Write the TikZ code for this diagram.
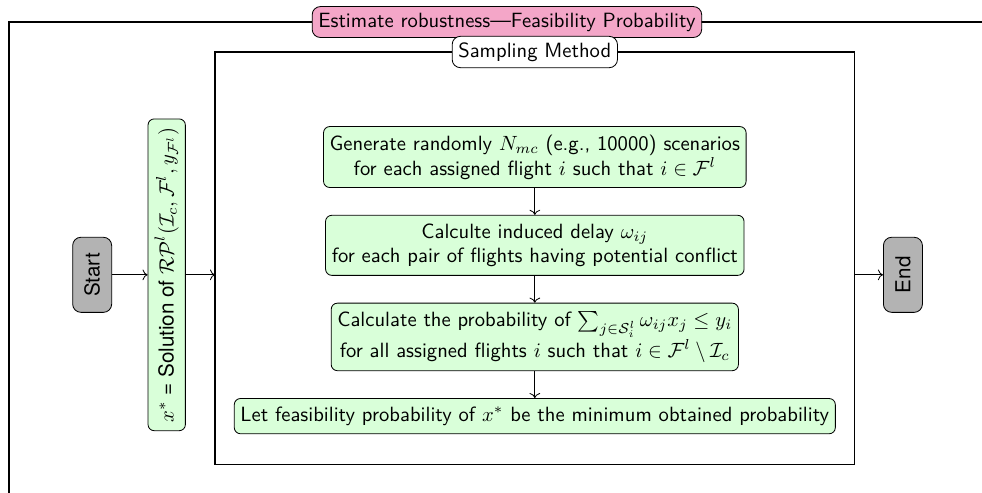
\documentclass[tikz,border=0pt]{standalone}
\usepackage{fontspec}
\newfontfamily\herosfont{TeX Gyre Heros}
\usepackage{amsmath}
\usepackage{tikz}
\usetikzlibrary{arrows.meta, positioning}
\definecolor{clrTtl}{HTML}{F4A6C8}
\definecolor{clrStep}{HTML}{D9FFD9}
\definecolor{clrTerm}{HTML}{B3B3B3}

\begin{document}
\begin{tikzpicture}[x=0.97cm, y=0.97cm, node distance=0.46cm,
  stepbox/.style={rectangle, rounded corners=3pt, draw=black, fill=clrStep,
        font=\sffamily, align=center, inner xsep=3pt, inner ysep=4pt},
  termbox/.style={rectangle, rounded corners=4pt, draw=black, fill=clrTerm,
        font=\herosfont, rotate=90, minimum width=1.28cm, minimum height=0.665cm},
  titlebox/.style={rectangle, rounded corners=4pt, draw=black,
        font=\sffamily, inner sep=3pt},
  frame/.style={draw=black, line width=0.6pt}]
  \clip (0,0) rectangle (17.26,-8.66);
  % outer frame, it runs past the right and bottom edges
  \draw[frame] (0.158,-9.5) |- (17.66,-0.387) -- (17.66,-9.5);
  \node[titlebox, fill=clrTtl] (est) at (8.91,-0.387) {Estimate robustness---Feasibility Probability};
  % sampling frame
  \draw[frame] (3.78,-0.914) rectangle (15.02,-8.17);
  \node[titlebox, fill=white] (smpttl) at (9.40,-0.914) {Sampling Method};
  \coordinate (smpW) at (3.78,-4.83);
  \coordinate (smpE) at (15.02,-4.83);

  \node[termbox] (start) at (1.62,-4.83) {Start};
  \node[stepbox, rotate=90, font=\herosfont, inner xsep=4pt, inner ysep=3.2pt] (sol) at (2.93,-4.83)
        {$x^*$ = Solution of $\mathcal{RP}^l(\mathcal{I}_c,\mathcal{F}^l,y_{\mathcal{F}^l})$};
  \node[termbox] (end) at (15.87,-4.83) {End};

  \node[stepbox] (gen) at (9.40,-2.76)
        {Generate randomly $N_{mc}$ (e.g., 10000) scenarios\\ for each assigned flight $i$ such that $i\in\mathcal{F}^l$};
  \node[stepbox, below=of gen] (dly)
        {Calculte induced delay $\omega_{ij}$\\ for each pair of flights having potential conflict};
  \node[stepbox, below=of dly] (prb)
        {Calculate the probability of $\sum_{j\in\mathcal{S}_i^l}\omega_{ij}x_j\le y_i$\\ for all assigned flights $i$ such that $i\in\mathcal{F}^l\setminus\mathcal{I}_c$};
  \node[stepbox, below=of prb] (min)
        {Let feasibility probability of $x^*$ be the minimum obtained probability};

  \draw[->] (start) -- (sol);
  \draw[->] (sol.south) -- (smpW);
  \draw[->] (smpE) -- (end.north);
  \foreach \a/\b in {gen/dly, dly/prb, prb/min}
    \draw[->] (\a) -- (\b);
\end{tikzpicture}
\end{document}
